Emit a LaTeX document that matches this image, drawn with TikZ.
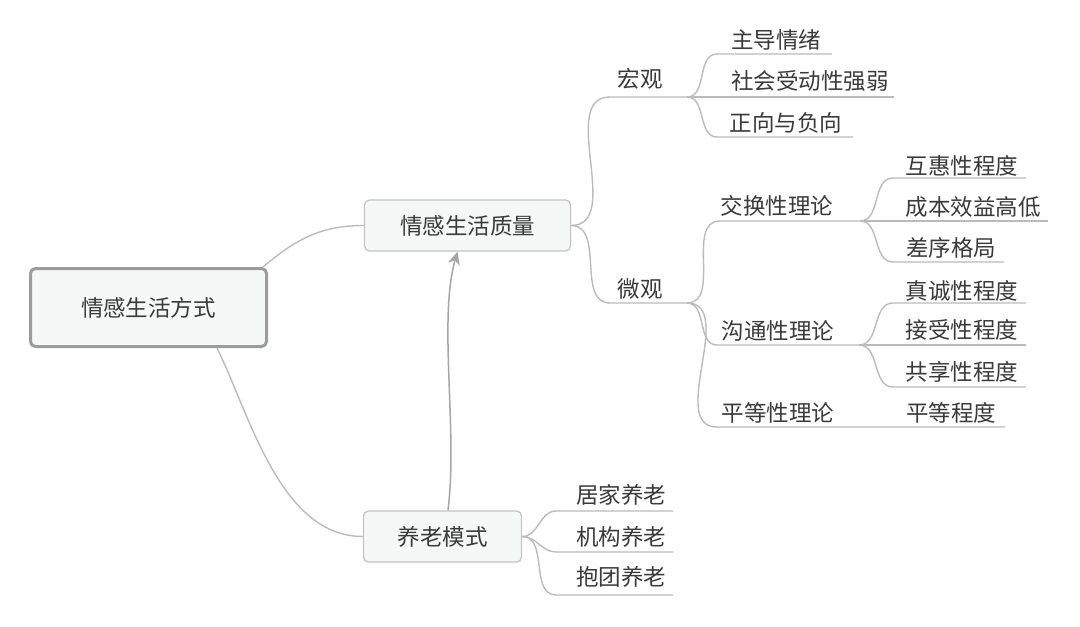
\documentclass[tikz,border=0pt]{standalone}
\usepackage{fontspec}
\newfontfamily\cjk{Noto Sans CJK SC}
\usetikzlibrary{arrows.meta}
\definecolor{txt}{HTML}{3A3A3A}
\definecolor{ln}{HTML}{BBBBBB}
\definecolor{arr}{HTML}{A6A6A6}
\definecolor{boxc}{HTML}{C4C4C4}
\definecolor{rootc}{HTML}{9C9C9C}
\definecolor{boxf}{HTML}{F6F7F7}
\begin{document}
\begin{tikzpicture}[x=1pt,y=-1pt,
  lbl/.style={font=\cjk\fontsize{22.5}{26}\selectfont, text=txt, inner sep=0pt},
  box/.style={lbl, draw=boxc, line width=1.3pt, fill=boxf, rounded corners=5pt},
  con/.style={draw=ln, line width=1.4pt},
  br/.style={out=0,in=180},
]
\useasboundingbox[fill=white] (0,0) rectangle (1080,627);

% main boxes
\node[box, draw=rootc, line width=3pt, minimum width=236, minimum height=78] (root) at (148.5,307.5) {情感生活方式};
\node[box, minimum width=206, minimum height=51] (q) at (467.5,225.5) {情感生活质量};
\node[box, minimum width=158, minimum height=51] (ym) at (442.5,536.5) {养老模式};

% labels
\node[lbl] (hg) at (640,79) {宏观};
\node[lbl] (zd) at (776,40) {主导情绪};
\node[lbl] (sh) at (810,81) {社会受动性强弱};
\node[lbl] (zx) at (786,123) {正向与负向};
\node[lbl] (wg) at (640,289) {微观};
\node[lbl] (jh) at (777,206) {交换性理论};
\node[lbl] (hh) at (962,166) {互惠性程度};
\node[lbl] (cb) at (973,207) {成本效益高低};
\node[lbl] (cx) at (951,248) {差序格局};
\node[lbl] (gt) at (778,331) {沟通性理论};
\node[lbl] (zc) at (962,291) {真诚性程度};
\node[lbl] (js) at (962,330) {接受性程度};
\node[lbl] (gx) at (962,372) {共享性程度};
\node[lbl] (pd) at (778,413) {平等性理论};
\node[lbl] (pc) at (951,413) {平等程度};
\node[lbl] (jj) at (621,495) {居家养老};
\node[lbl] (jg) at (621,537) {机构养老};
\node[lbl] (bt) at (621,577) {抱团养老};

% junction coordinates
\coordinate (Jh) at (687,97);
\coordinate (Jw) at (687,303);
\coordinate (Jx) at (860,221);
\coordinate (Jg) at (859,345);

% root connectors
\draw[con] ([xshift=-5pt]root.north east) .. controls (295,240) and (320,225.5) .. (q.west);
\draw[con] ([xshift=68.5pt]root.south) .. controls (250,415) and (280,536.5) .. (ym.west);

% arrow
\draw[draw=arr, line width=1.5pt, -{Stealth[length=13pt,width=12pt,inset=4pt,fill=arr]}]
  ([xshift=5.5pt]ym.north) .. controls (458,430) and (438,320) .. ([xshift=-10pt]q.south);

% macro branch
\draw[con] (q.east) to[br] (610,97) -- (Jh);
\draw[con] (Jh) to[br] (717,54) -- (832,54);
\draw[con] (Jh) -- (894,97);
\draw[con] (Jh) to[br] (717,137) -- (853,137);

% micro branch
\draw[con] (q.east) to[br] (610,303) -- (Jw);
\draw[con] (Jw) to[br] (720,221) -- (Jx);
\draw[con] (Jx) to[br] (893,178) -- (1026,178);
\draw[con] (Jx) -- (1048,221);
\draw[con] (Jx) to[br] (893,262) -- (1004,262);
\draw[con] (Jw) to[br] (717,345) -- (Jg);
\draw[con] (Jg) to[br] (893,303) -- (1026,303);
\draw[con] (Jg) -- (1026,345);
\draw[con] (Jg) to[br] (893,387) -- (1026,387);
\draw[con] (Jw) to[br] (717,427) -- (1005,427);

% elderly care branch
\draw[con] (ym.east) to[br] (556,511) -- (673,511);
\draw[con] (ym.east) to[br] (556,552) -- (673,552);
\draw[con] (ym.east) to[br] (556,595) -- (673,595);
\end{tikzpicture}
\end{document}
